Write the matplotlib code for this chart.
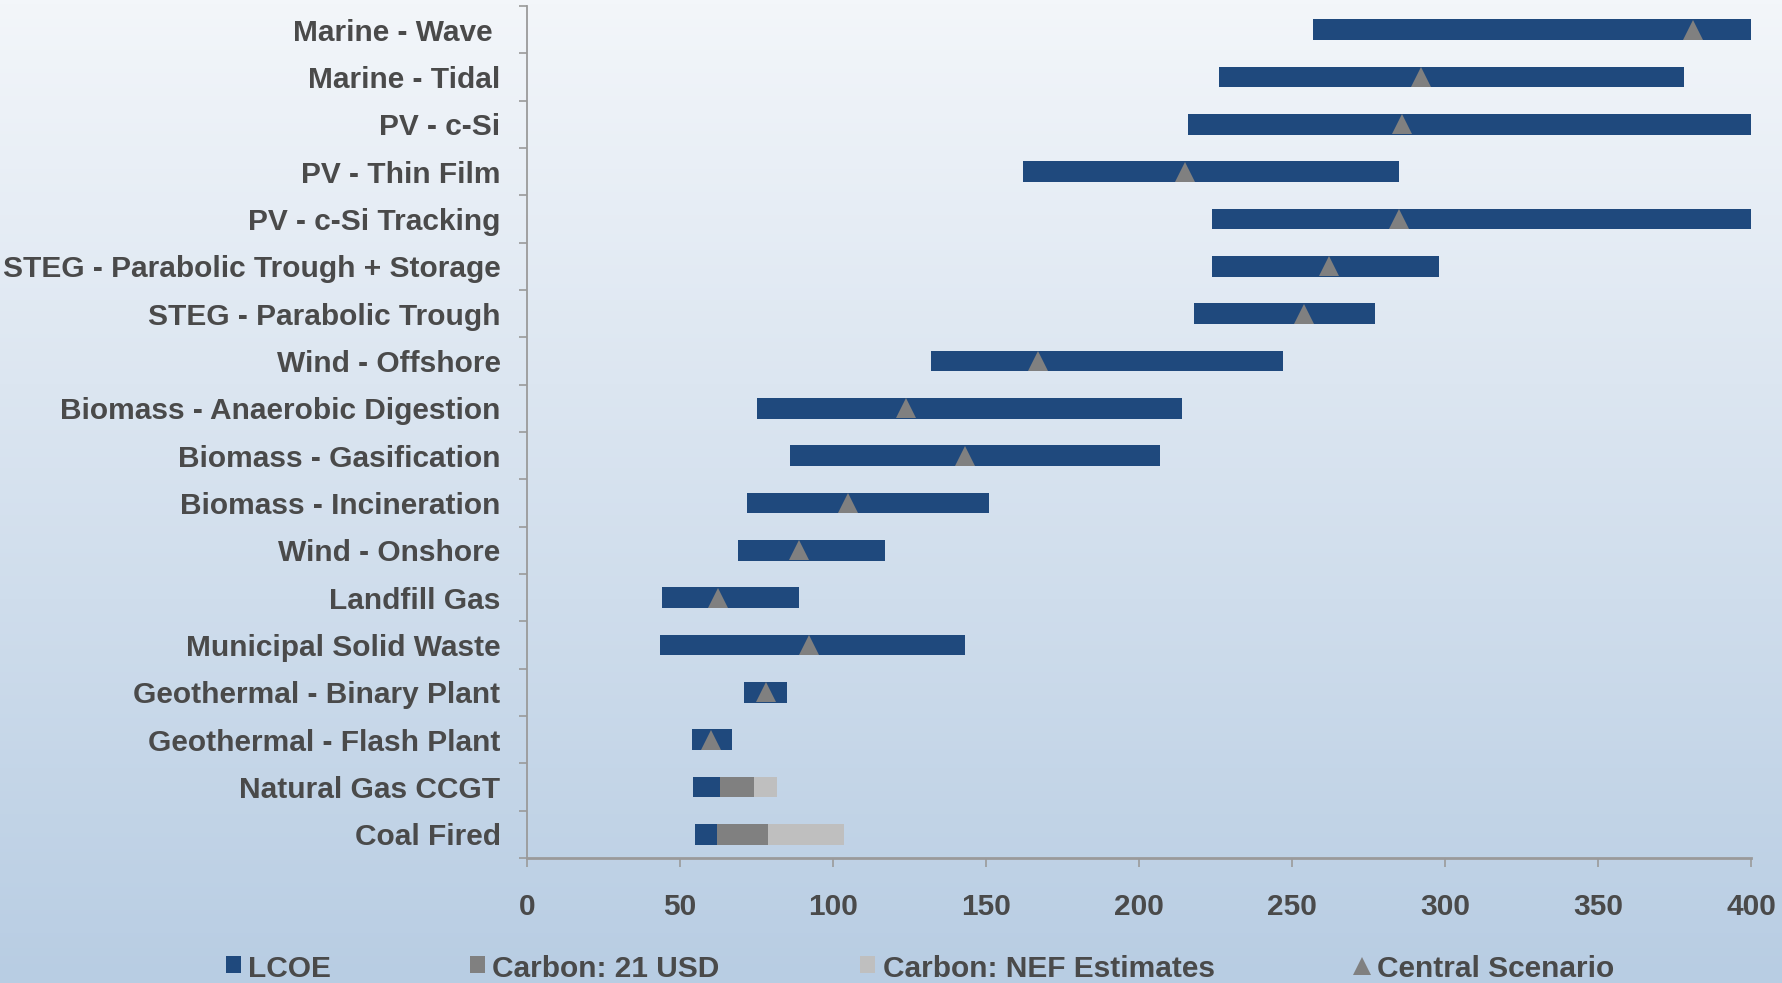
import numpy as np
import matplotlib
matplotlib.use("Agg")
import matplotlib.pyplot as plt
from matplotlib.patches import Rectangle
from matplotlib.lines import Line2D

categories = ["Marine - Wave ", "Marine - Tidal", "PV - c-Si", "PV - Thin Film",
              "PV - c-Si Tracking", "STEG - Parabolic Trough + Storage",
              "STEG - Parabolic Trough", "Wind - Offshore",
              "Biomass - Anaerobic Digestion", "Biomass - Gasification",
              "Biomass - Incineration", "Wind - Onshore", "Landfill Gas",
              "Municipal Solid Waste", "Geothermal - Binary Plant",
              "Geothermal - Flash Plant", "Natural Gas CCGT", "Coal Fired"]
lcoe_low = [257, 226, 216, 162, 224, 224, 218, 132, 75, 86, 72, 69, 44, 43.5, 71, 54, 54.2, 54.8]
lcoe_high = [400, 378, 400, 285, 400, 298, 277, 247, 214, 207, 151, 117, 89, 143, 85, 67, 63.0, 62.0]
carbon_21 = [0, 0, 0, 0, 0, 0, 0, 0, 0, 0, 0, 0, 0, 0, 0, 0, 11.1, 16.6]
carbon_nef = [0, 0, 0, 0, 0, 0, 0, 0, 0, 0, 0, 0, 0, 0, 0, 0, 7.5, 24.9]
central = [381, 292, 286, 215, 285, 262, 254, 167, 124, 143, 105, 89, 62.5, 92, 78, 60, None, None]
xticks = [0, 50, 100, 150, 200, 250, 300, 350, 400]
legend_labels = ["LCOE", "Carbon: 21 USD", "Carbon: NEF Estimates", "Central Scenario"]

BLUE = "#1f497d"
GRAY = "#808080"
LGRAY = "#bfbfbf"
TEXT = "#4a4a4a"
SPINE = "#9a9a9a"
FONT = "Liberation Sans"

W, H = 1782, 983
fig = plt.figure(figsize=(W / 100, H / 100), dpi=100)

# gradient background
bg = fig.add_axes([0, 0, 1, 1], zorder=-10)
top = np.array([0xf3, 0xf6, 0xfa]) / 255
bot = np.array([0xb8, 0xcd, 0xe3]) / 255
t = np.linspace(0, 1, 256)[:, None]
grad = (top[None, :] * (1 - t) + bot[None, :] * t)[:, None, :]
bg.imshow(grad, aspect="auto", extent=[0, 1, 0, 1], origin="upper")
bg.set_axis_off()

ax = fig.add_axes([527 / W, 1 - 858 / H, (1751 - 527) / W, (858 - 6) / H])
ax.patch.set_alpha(0)

y = np.arange(len(categories))
lo = np.array(lcoe_low)
hi = np.array(lcoe_high)
c21 = np.array(carbon_21)
nef = np.array(carbon_nef)
bh = 0.43
ax.barh(y, hi - lo, left=lo, height=bh, color=BLUE, zorder=2)
ax.barh(y, c21, left=hi, height=bh, color=GRAY, zorder=2)
ax.barh(y, nef, left=hi + c21, height=bh, color=LGRAY, zorder=2)
cy = [i for i, c in enumerate(central) if c is not None]
cx = [c for c in central if c is not None]
ax.plot(cx, cy, linestyle="none", marker="^", markersize=15, color=GRAY,
        markeredgewidth=0, zorder=3)

ax.set_xlim(0, 400)
ax.set_ylim(len(categories) - 0.5, -0.5)
ax.set_xticks(xticks)
ax.set_xticklabels([str(v) for v in xticks], fontsize=21.5, fontweight="bold",
                   color=TEXT, family=FONT)
ax.set_yticks(y)
ax.set_yticklabels(categories, fontsize=21.5, fontweight="bold", color=TEXT,
                   family=FONT)
ax.set_yticks(np.arange(-0.5, len(categories)), minor=True)
ax.tick_params(axis="y", which="major", length=0, pad=19)
ax.tick_params(axis="y", which="minor", length=5.5, width=1.2, color=SPINE)
ax.tick_params(axis="x", which="major", length=6.5, width=1.2, color=SPINE, pad=19)
for s in ["top", "right"]:
    ax.spines[s].set_visible(False)
ax.spines["left"].set_color(SPINE)
ax.spines["left"].set_linewidth(1.3)
ax.spines["bottom"].set_color(SPINE)
ax.spines["bottom"].set_linewidth(2)

# legend (manual)
def fx(px):
    return px / W

def fy(py):
    return 1 - py / H

base = fy(977)
mk_top, mk_bot = 956, 973
entries = [(226, 248, BLUE, "s"), (470, 492, GRAY, "s"), (860, 883, LGRAY, "s"),
           (1352, 1377, GRAY, "^")]
for (mx, tx, col, kind), lab in zip(entries, legend_labels):
    if kind == "s":
        fig.add_artist(Rectangle((fx(mx), fy(mk_bot)), 15 / W, (mk_bot - mk_top) / H,
                                 transform=fig.transFigure, color=col, lw=0))
    else:
        fig.add_artist(Line2D([fx(mx + 10)], [fy(965.5)], marker="^", markersize=13,
                              color=col, markeredgewidth=0, linestyle="none",
                              transform=fig.transFigure))
    fig.text(fx(tx), base, lab, fontsize=21.5, fontweight="bold", color=TEXT,
             family=FONT, ha="left", va="baseline")

fig.savefig("out.png", dpi=100)
